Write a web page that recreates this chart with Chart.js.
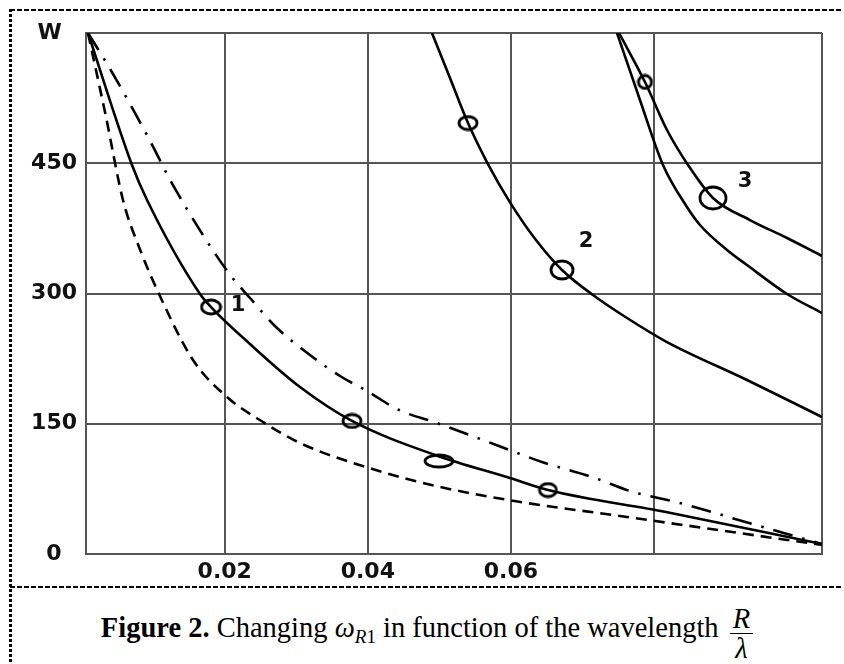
<!DOCTYPE html>
<html>
<head>
<meta charset="utf-8">
<script src="https://cdn.jsdelivr.net/npm/chart.js@4.4.0/dist/chart.umd.min.js"></script>
<style>
  html, body { margin: 0; padding: 0; background: #fff; }
  #wrap { position: relative; width: 844px; height: 664px; overflow: hidden; }
  #chart { position: absolute; left: 0; top: 0; }
  .frame-top { position: absolute; left: 10px; top: 9px; width: 833px; height: 2px;
    background: repeating-linear-gradient(to right, #000 0 5px, transparent 5px 7px); }
  .frame-left { position: absolute; left: 9px; top: 9px; width: 3px; height: 655px;
    background: repeating-linear-gradient(to bottom, #000 0 3px, transparent 3px 5px); }
  .frame-mid { position: absolute; left: 10px; top: 586px; width: 833px; height: 2px;
    background: repeating-linear-gradient(to right, #000 0 5px, transparent 5px 7px); }
  #caption { position: absolute; left: 12px; top: 601px; width: 830px; text-align: center;
    font-family: "Liberation Serif", "Times New Roman", serif; font-size: 28.5px; line-height: 42px;
    white-space: nowrap; color: #000; }
  #caption .om { font-style: italic; }
  #caption sub { font-size: 19px; vertical-align: -6px; line-height: 0; }
  #caption .frac { display: inline-block; vertical-align: middle; text-align: center;
    font-style: italic; line-height: 29px; margin-left: 4px; position: relative; top: 3px; }
  #caption .frac .num { display: block; border-bottom: 1.5px solid #000; padding: 0 3px; }
  #caption .frac .den { display: block; }
</style>
</head>
<body>
<div id="wrap">
  <canvas id="chart" width="844" height="587"></canvas>
  <div class="frame-top"></div>
  <div class="frame-left"></div>
  <div class="frame-mid"></div>
  <div id="caption"><b>Figure 2.</b> Changing <span class="om">ω</span><sub><i>R</i>1</sub> in function of the wavelength <span class="frac"><span class="num">R</span><span class="den">λ</span></span></div>
</div>
<script>
// axis ticks (grid lines) and their labels
const xTickValues = [0.0006, 0.02, 0.04, 0.06, 0.08, 0.1035];
const xTickLabels = ['', '0.02', '0.04', '0.06', '', ''];
const yTickValues = [0, 150, 300, 450, 600];
const yTickLabels = ['0  ', '150', '300', '450', 'W  '];

// curve 1 family: solid, dashed, dash-dot
const solid1X = [0.00088, 0.00703, 0.00913, 0.01654, 0.01808, 0.02353, 0.03052, 0.03779, 0.04981, 0.05988, 0.06519, 0.08169, 0.1035];
const solid1Y = [600, 448.0, 407.7, 299.4, 284.4, 241.8, 192.3, 153.2, 112.9, 87.5, 73.7, 48.4, 11.5];

const dashedX = [0.00088, 0.00340, 0.00577, 0.00829, 0.01081, 0.01556, 0.02031, 0.02535, 0.03052, 0.04017, 0.05009, 0.06226, 0.07428, 0.08407, 0.1035];
const dashedY = [600, 503.2, 407.7, 347.8, 299.4, 223.4, 180.8, 152.0, 127.8, 99.0, 77.2, 58.7, 44.9, 33.4, 10.4];

const dashDotX = [0.00088, 0.00438, 0.00927, 0.01276, 0.02045, 0.02353, 0.02716, 0.03136, 0.03611, 0.03989, 0.04436, 0.04925, 0.05499, 0.06128, 0.06435, 0.07134, 0.07708, 0.08253, 0.08714, 0.09231, 0.1035];
const dashDotY = [600, 552.8, 480.2, 424.9, 324.7, 294.8, 261.4, 232.6, 205.0, 187.7, 165.8, 152.0, 134.7, 115.2, 105.9, 88.7, 71.4, 61.0, 50.7, 38.0, 11.5];

// curve 2
const curve2X = [0.04897, 0.05149, 0.05401, 0.05680, 0.05988, 0.06351, 0.06715, 0.07148, 0.07624, 0.08183, 0.09273, 0.1035];
const curve2Y = [600, 548.2, 496.3, 449.1, 405.0, 361.6, 327.1, 298.3, 271.8, 244.1, 201.5, 157.8];

// curve 3 pair
const curve3aX = [0.07512, 0.07875, 0.08183, 0.08477, 0.08826, 0.09343, 0.09861, 0.1035];
const curve3aY = [600, 543.6, 488.3, 448.0, 410.0, 384.6, 363.9, 343.2];
const curve3bX = [0.07484, 0.07805, 0.08127, 0.08462, 0.08644, 0.09022, 0.09301, 0.09861, 0.1035];
const curve3bY = [600, 522.8, 448.0, 399.6, 378.9, 350.1, 332.8, 299.4, 277.5];

// open circle markers on the curves
const markerX = [0.01808, 0.03779, 0.04995, 0.06519, 0.05401, 0.06715, 0.07875, 0.08826];
const markerY = [284.4, 153.2, 107.1, 73.7, 496.3, 327.1, 543.6, 410.0];

// curve numbers
const curveNames = ['1', '2', '3'];
const curveNameX = [0.02185, 0.07050, 0.09273];
const curveNameY = [285.6, 359.3, 429.5];

// marker shapes (width, height in px)
const markerShapes = [[19, 14], [18, 13], [28, 12], [17, 13], [18, 13], [22, 18], [13, 13], [26, 22]];

function zip(xs, ys) {
  return xs.map((x, i) => ({ x: x, y: ys[i] }));
}

function ellipseMarker(w, h) {
  const c = document.createElement('canvas');
  c.width = w + 4;
  c.height = h + 4;
  const g = c.getContext('2d');
  g.lineWidth = 2.8;
  g.strokeStyle = '#000';
  g.beginPath();
  g.ellipse(c.width / 2, c.height / 2, w / 2, h / 2, 0, 0, Math.PI * 2);
  g.stroke();
  return c;
}

const lineStyle = {
  borderColor: '#000',
  borderWidth: 2.6,
  pointRadius: 0,
  fill: false,
  cubicInterpolationMode: 'monotone'
};

const curveNamePlugin = {
  id: 'curveNames',
  afterDatasetsDraw(chart) {
    const { ctx, scales: { x, y } } = chart;
    ctx.save();
    ctx.font = 'bold 21px "DejaVu Sans"';
    ctx.fillStyle = '#111';
    ctx.textAlign = 'center';
    ctx.textBaseline = 'middle';
    curveNames.forEach((t, i) => {
      ctx.fillText(t, x.getPixelForValue(curveNameX[i]), y.getPixelForValue(curveNameY[i]));
    });
    ctx.restore();
  }
};

const tickFont = { family: 'DejaVu Sans', size: 22, weight: 'bold' };
const gridStyle = { color: '#555', lineWidth: 2, drawTicks: false };

new Chart(document.getElementById('chart'), {
  type: 'line',
  data: {
    datasets: [
      Object.assign({ data: zip(solid1X, solid1Y) }, lineStyle),
      Object.assign({ data: zip(dashedX, dashedY), borderDash: [11, 7] }, lineStyle),
      Object.assign({ data: zip(dashDotX, dashDotY), borderDash: [20, 10, 2.5, 10] }, lineStyle),
      Object.assign({ data: zip(curve2X, curve2Y) }, lineStyle),
      Object.assign({ data: zip(curve3aX, curve3aY) }, lineStyle),
      Object.assign({ data: zip(curve3bX, curve3bY) }, lineStyle),
      {
        type: 'scatter',
        data: zip(markerX, markerY),
        showLine: false,
        pointRadius: 5,
        pointStyle: markerShapes.map(s => ellipseMarker(s[0], s[1]))
      }
    ]
  },
  options: {
    responsive: false,
    animation: false,
    layout: { padding: { left: 0, top: 33, right: 22, bottom: 0 } },
    plugins: { legend: { display: false }, tooltip: { enabled: false } },
    scales: {
      x: {
        type: 'linear',
        min: xTickValues[0],
        max: xTickValues[xTickValues.length - 1],
        afterBuildTicks: axis => { axis.ticks = xTickValues.map(v => ({ value: v })); },
        afterFit: axis => { axis.height = 33; },
        ticks: {
          autoSkip: false, maxRotation: 0, padding: 5,
          color: '#111', font: tickFont,
          callback: (v, i) => xTickLabels[i]
        },
        grid: gridStyle,
        border: { color: '#555', width: 2 }
      },
      y: {
        type: 'linear',
        min: 0,
        max: 600,
        afterBuildTicks: axis => { axis.ticks = yTickValues.map(v => ({ value: v })); },
        afterFit: axis => { axis.width = 86; },
        ticks: {
          autoSkip: false, padding: 9,
          color: '#111', font: tickFont,
          callback: (v, i) => yTickLabels[i]
        },
        grid: gridStyle,
        border: { color: '#555', width: 2 }
      }
    }
  },
  plugins: [curveNamePlugin]
});
</script>
</body>
</html>
